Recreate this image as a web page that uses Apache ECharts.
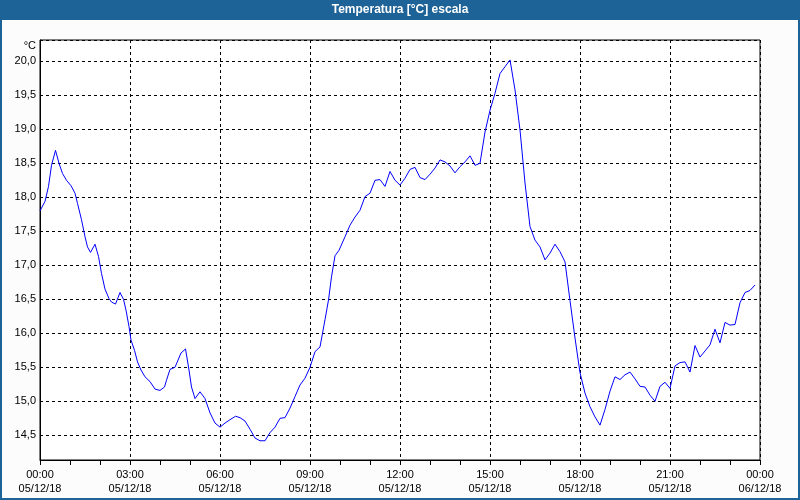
<!DOCTYPE html>
<html>
<head>
<meta charset="utf-8">
<script src="https://cdn.jsdelivr.net/npm/echarts@6/dist/echarts.min.js"></script>
<style>
html,body{margin:0;padding:0;background:#fbfcfb;}
#chart{width:800px;height:500px;}
</style>
</head>
<body>
<div id="chart"></div>
<script>
var chartTitle = 'Temperatura [°C] escala';
var unitLabel = '°C';
var dayLabels = ['05/12/18', '06/12/18'];
// sample times, minutes after 00:00 on 05/12/18
var timesMin = [
  0, 10, 17, 23, 31, 38, 45, 53, 62, 70, 75, 83, 90, 95, 101, 110, 117, 123, 130, 138,
  143, 151, 160, 167, 172, 178, 182, 189, 195, 202, 210, 220, 230, 240, 249, 253, 260, 270, 282, 291,
  298, 303, 310, 320, 330, 340, 350, 360, 370, 380, 391, 400, 410, 420, 430, 440, 450, 460, 470, 480,
  490, 500, 510, 520, 530, 540, 550, 560, 565, 570, 577, 583, 590, 598, 610, 620, 630, 640, 650, 660,
  670, 680, 690, 700, 710, 720, 730, 740, 750, 760, 770, 780, 790, 800, 810, 820, 830, 840, 850, 860,
  870, 880, 890, 900, 910, 920, 930, 940, 950, 960, 970, 980, 990, 1000, 1010, 1020, 1030, 1040, 1050, 1060,
  1070, 1080, 1090, 1100, 1110, 1120, 1130, 1140, 1150, 1160, 1170, 1180, 1190, 1200, 1210, 1220, 1230, 1240, 1250, 1260,
  1270, 1280, 1290, 1300, 1310, 1320, 1330, 1340, 1350, 1360, 1370, 1380, 1390, 1400, 1410, 1420, 1430
];
var temperatures = [
  17.80, 17.94, 18.16, 18.47, 18.69, 18.50, 18.35, 18.25, 18.17, 18.06, 17.91, 17.67, 17.42, 17.27, 17.19, 17.31, 17.13, 16.88, 16.65, 16.51,
  16.46, 16.43, 16.60, 16.50, 16.34, 16.10, 15.90, 15.75, 15.58, 15.46, 15.36, 15.29, 15.18, 15.16, 15.21, 15.31, 15.47, 15.50, 15.71, 15.77,
  15.46, 15.21, 15.04, 15.14, 15.04, 14.83, 14.68, 14.62, 14.68, 14.73, 14.78, 14.76, 14.71, 14.59, 14.46, 14.42, 14.42, 14.54, 14.62, 14.75,
  14.76, 14.90, 15.07, 15.24, 15.34, 15.50, 15.73, 15.80, 16.00, 16.20, 16.49, 16.83, 17.14, 17.22, 17.42, 17.59, 17.71, 17.81, 18.01, 18.06,
  18.25, 18.26, 18.16, 18.38, 18.25, 18.18, 18.28, 18.41, 18.44, 18.29, 18.26, 18.34, 18.43, 18.55, 18.52, 18.46, 18.36, 18.45, 18.52, 18.61,
  18.47, 18.50, 18.96, 19.28, 19.53, 19.82, 19.92, 20.02, 19.58, 18.99, 18.21, 17.57, 17.37, 17.27, 17.08, 17.18, 17.31, 17.20, 17.05, 16.48,
  15.93, 15.42, 15.12, 14.92, 14.77, 14.65, 14.88, 15.15, 15.36, 15.32, 15.39, 15.43, 15.33, 15.22, 15.21, 15.09, 15.00, 15.22, 15.28, 15.19,
  15.52, 15.57, 15.58, 15.43, 15.82, 15.65, 15.74, 15.83, 16.06, 15.86, 16.16, 16.12, 16.13, 16.45, 16.60, 16.63, 16.71
];

var seriesData = timesMin.map(function (m, i) { return [m / 60, temperatures[i]]; });
var frameBlue = '#1e6398';
var fontFamily = '"Liberation Sans", Arial, sans-serif';

var chart = echarts.init(document.getElementById('chart'));
chart.setOption({
  animation: false,
  backgroundColor: '#fbfcfb',
  title: {
    text: chartTitle,
    left: 'center',
    top: 3,
    padding: 0,
    textStyle: { color: '#ffffff', fontSize: 12, fontWeight: 'bold', fontFamily: fontFamily, lineHeight: 14 }
  },
  graphic: [
    { type: 'rect', z: -10, silent: true, shape: { x: 0, y: 0, width: 800, height: 20 }, style: { fill: frameBlue } },
    { type: 'rect', z: -10, silent: true, shape: { x: 1, y: 1, width: 798, height: 498 }, style: { fill: null, stroke: frameBlue, lineWidth: 2 } }
  ],
  grid: {
    left: 40, right: 40, top: 40, bottom: 40,
    show: true, backgroundColor: '#ffffff', borderColor: '#000000', borderWidth: 1
  },
  xAxis: {
    type: 'value', min: 0, max: 24, interval: 3,
    axisLine: { show: true, lineStyle: { color: '#000', width: 1 } },
    axisTick: { show: true, length: 5, lineStyle: { color: '#000' } },
    minorTick: { show: true, splitNumber: 3, length: 5, lineStyle: { color: '#000' } },
    splitLine: { show: true, lineStyle: { color: '#000', type: [3, 3], width: 1 } },
    axisLabel: {
      color: '#000', fontSize: 11, fontFamily: fontFamily, lineHeight: 14, margin: 8,
      showMinLabel: true, showMaxLabel: true,
      formatter: function (v) {
        var h = Math.round(v);
        var hh = h % 24;
        var d = h >= 24 ? dayLabels[1] : dayLabels[0];
        return (hh < 10 ? '0' : '') + hh + ':00\n' + d;
      }
    }
  },
  yAxis: {
    type: 'value', min: 14.137, max: 20.313, splitNumber: 12, minInterval: 0.5, maxInterval: 0.5,
    name: unitLabel, nameLocation: 'end', nameGap: -6,
    nameTextStyle: { color: '#000', fontSize: 11, fontFamily: fontFamily, align: 'right', verticalAlign: 'middle', padding: [0, 4, 0, 0] },
    axisLine: { show: true, lineStyle: { color: '#000' } },
    axisTick: { show: false },
    splitLine: { show: true, lineStyle: { color: '#000', type: [3, 3], width: 1 } },
    axisLabel: {
      color: '#000', fontSize: 11, fontFamily: fontFamily, margin: 4,
      formatter: function (v) {
        var r = Math.round(v * 2) / 2;
        if (Math.abs(r - v) > 1e-6) return '';
        return r.toFixed(1).replace('.', ',');
      }
    }
  },
  series: [{
    type: 'line',
    data: seriesData,
    showSymbol: false,
    lineStyle: { color: '#0000ff', width: 1 },
    itemStyle: { color: '#0000ff' }
  }]
});
</script>
</body>
</html>
